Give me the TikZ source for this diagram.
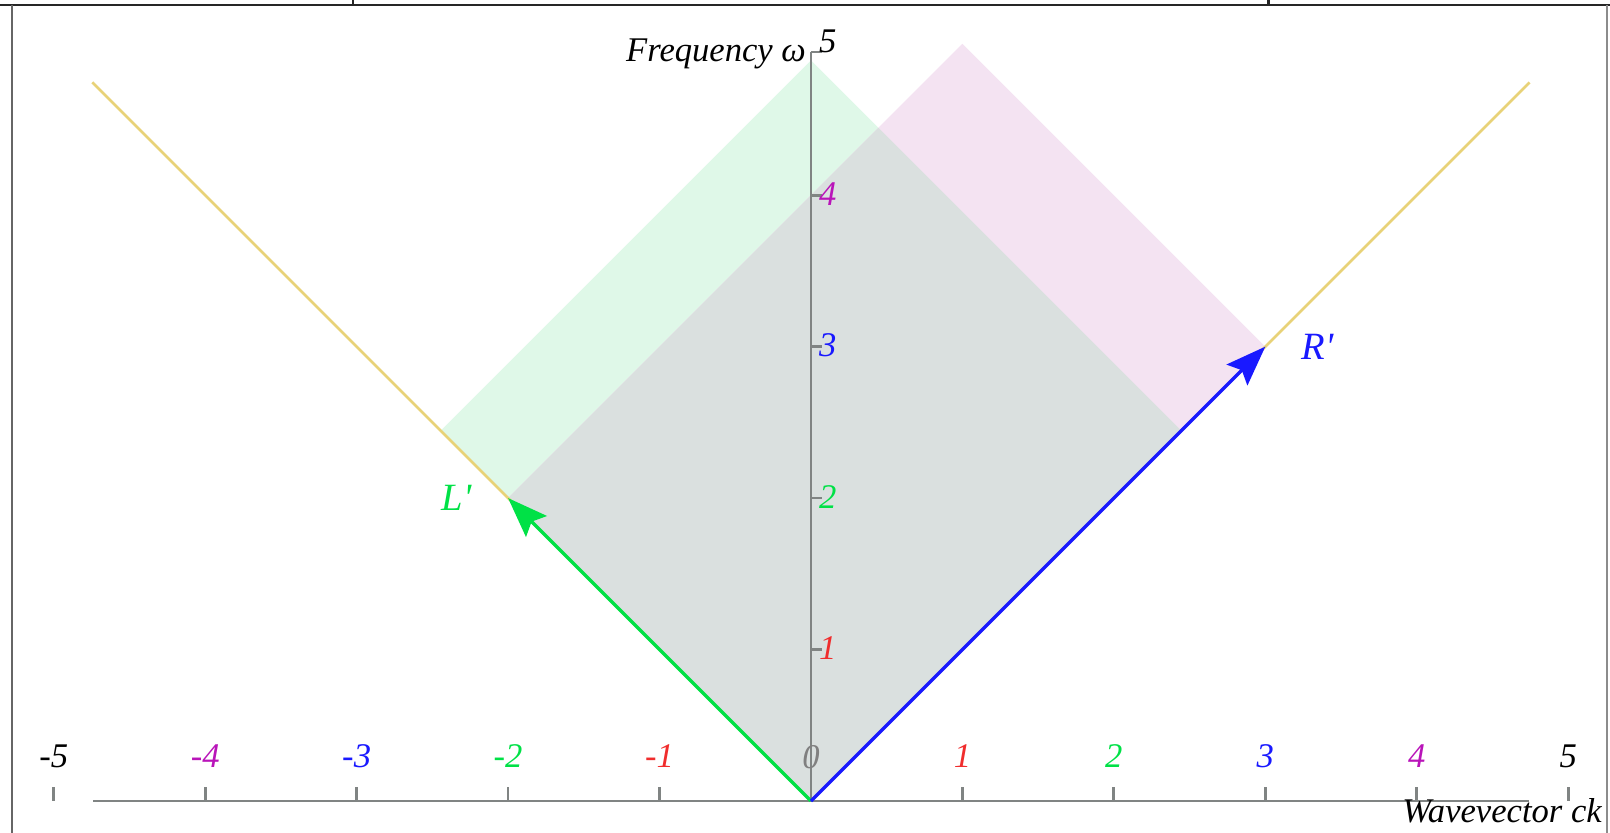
\documentclass[tikz,border=0pt]{standalone}
\usepackage{fontspec}
\setmainfont{Liberation Serif}
\usetikzlibrary{arrows.meta}
\definecolor{mint}{RGB}{223,248,232}
\definecolor{pinkish}{RGB}{244,227,242}
\definecolor{overlapgray}{RGB}{218,224,223}
\definecolor{gold}{RGB}{232,210,120}
\definecolor{cred}{RGB}{240,45,45}
\definecolor{cgreen}{RGB}{0,225,70}
\definecolor{cblue}{RGB}{25,25,255}
\definecolor{cpurple}{RGB}{185,20,185}
\definecolor{axisgray}{RGB}{128,132,131}
\begin{document}
\begin{tikzpicture}[x=2cm,y=2cm,
  axisline/.style={draw=axisgray, line width=1.05pt},
  lightline/.style={draw=gold, line width=1pt},
  vecgreen/.style={draw=cgreen, line width=1.3pt, -{Stealth[length=15pt,width=11pt,inset=2.5pt]}},
  vecblue/.style={draw=cblue, line width=1.3pt, -{Stealth[length=15pt,width=11pt,inset=2.5pt]}},
  ticklab/.style={font=\fontsize{13}{15}\selectfont\itshape, inner sep=0pt},
  vlab/.style={font=\fontsize{14.5}{16}\selectfont\itshape, inner sep=0pt},
  framedark/.style={draw=black!85, line width=1.1pt},
  frameside/.style={draw=black!60, line width=0.9pt},
]
\useasboundingbox (-5.355,-0.211) rectangle (5.276,5.289);

% frame of the screenshot
\coordinate (ftl) at (-5.355,5.256);
\coordinate (ftr) at (5.276,5.256);
\draw[framedark] (ftl) -- (ftr);
\coordinate (tk1a) at (-3.024,5.256); \coordinate (tk1b) at (-3.024,5.289);
\coordinate (tk2a) at (3.018,5.256);  \coordinate (tk2b) at (3.018,5.289);
\draw[framedark] (tk1a) -- (tk1b);
\draw[framedark] (tk2a) -- (tk2b);
\coordinate (fla) at (-5.276,5.256); \coordinate (flb) at (-5.276,-0.211);
\coordinate (fra) at (5.256,5.256);  \coordinate (frb) at (5.256,-0.211);
\draw[frameside] (fla) -- (flb);
\draw[frameside, draw=black!45] (fra) -- (frb);

% key points
\coordinate (O) at (0,0);
\coordinate (Lp) at (-2,2);
\coordinate (Rp) at (3,3);
\coordinate (LL) at (-4.745,4.745);
\coordinate (RR) at (4.745,4.745);

% shaded regions
\fill[mint] (O) -- (-2.445,2.445) -- (0,4.89) -- (2.445,2.445) -- cycle;
\fill[pinkish] (O) -- (Rp) -- (1,5) -- (Lp) -- cycle;
\fill[overlapgray] (O) -- (Lp) -- (0.445,4.445) -- (2.445,2.445) -- cycle;

% light cone
\draw[lightline] (O) -- (LL);
\draw[lightline] (O) -- (RR);

% axes
\coordinate (xa) at (-4.74,0);
\coordinate (xb) at (4.74,0);
\coordinate (ya) at (0,4.945);
\draw[axisline] (xa) -- (xb);
\draw[axisline] (O) -- (ya);

% x ticks and labels
\foreach \k/\c in {-5/black,-4/cpurple,-3/cblue,-2/cgreen,-1/cred,1/cred,2/cgreen,3/cblue,4/cpurple,5/black}{
  \coordinate (xt\k a) at (\k,0);
  \coordinate (xt\k b) at (\k,0.09);
  \draw[axisline] (xt\k a) -- (xt\k b);
  \node[ticklab, text=\c, anchor=base] (xl\k) at (\k,0.222) {\k};
}
\node[ticklab, text=gray, anchor=base] (xl0) at (0,0.215) {0};

% y ticks and labels
\foreach \k/\y in {1/1,2/2,3/3,4/4,5/4.945}{
  \coordinate (yt\k a) at (0,\y);
  \coordinate (yt\k b) at (0.075,\y);
  \draw[axisline] (yt\k a) -- (yt\k b);
}
\node[ticklab, text=cred, anchor=base west] (yl1) at (0.05,0.932) {1};
\node[ticklab, text=cgreen, anchor=base west] (yl2) at (0.05,1.932) {2};
\node[ticklab, text=cblue, anchor=base west] (yl3) at (0.05,2.932) {3};
\node[ticklab, text=cpurple, anchor=base west] (yl4) at (0.05,3.932) {4};
\node[ticklab, text=black, anchor=base west] (yl5) at (0.05,4.945) {5};

% vectors
\draw[vecgreen] (O) -- (Lp);
\draw[vecblue] (O) -- (Rp);
\node[vlab, text=cgreen] (Llab) at (-2.34,2.0) {L\textquotesingle};
\node[vlab, text=cblue] (Rlab) at (3.344,3.0) {R\textquotesingle};

% axis titles
\node[ticklab, anchor=base east] (ytitle) at (-0.03,4.88) {Frequency ω};
\node[ticklab, anchor=base east] (xtitle) at (5.225,-0.139) {Wavevector ck};
\end{tikzpicture}
\end{document}
